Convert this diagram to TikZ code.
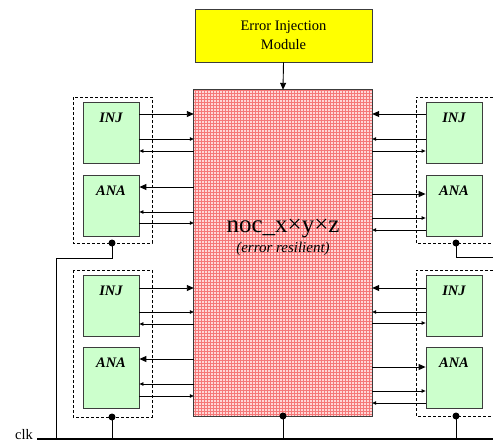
\documentclass[tikz,border=0pt]{standalone}
\usepackage{fontspec}
\setmainfont{Liberation Serif}
\usetikzlibrary{arrows.meta}
\definecolor{gfill}{HTML}{CCFFCC}
\definecolor{yfill}{HTML}{FFFF00}
\definecolor{pinkbg}{RGB}{255,215,215}
\definecolor{pinkln}{RGB}{245,120,120}
\definecolor{edge}{RGB}{60,60,60}
\tikzset{
  ybox/.style={draw=edge,line width=0.8pt,fill=yfill,minimum width=177,minimum height=53,inner sep=0,align=center,font=\fontsize{14.5}{19}\selectfont},
  gbox/.style={draw=edge,line width=0.8pt,fill=gfill,minimum width=56,minimum height=61,inner sep=0},
  boxlbl/.style={inner sep=0,font=\fontsize{14.5}{16}\selectfont\bfseries\itshape},
  grp/.style={draw=black,line width=0.8pt,dash pattern=on 3pt off 2pt},
  big/.style={draw=black,line width=0.9pt,-{Triangle[length=7pt,width=6pt]}},
  small/.style={draw=black,line width=0.8pt,-{Triangle[length=4pt,width=3.5pt]}},
  clkln/.style={draw=black,line width=1pt},
  dot/.style={fill=black},
}
\begin{document}
\begin{tikzpicture}[x=1pt,y=-1pt]
\useasboundingbox (0,0) rectangle (493,442);

% error injection module
\node[ybox] (eim) at (283.5,35.5) {Error Injection\\Module};

% noc
\node[minimum width=178,minimum height=326,inner sep=0,fill=pinkbg] (noc) at (283,253) {};
\begin{scope}
  \clip (noc.north west) rectangle (noc.south east);
  \draw[pinkln,line width=0.45pt,step=3pt] (190,86) grid (376,420);
\end{scope}
\draw[edge,line width=1.2pt] (noc.north west) rectangle (noc.south east);
\node[anchor=base,inner sep=0,font=\fontsize{25}{28}\selectfont] (noct) at (283,232) {noc\_x×y×z};
\node[anchor=base,inner sep=0,font=\fontsize{15}{17}\selectfont\itshape] (nocs) at (283,252) {(error resilient)};

\draw[big] (eim.south) -- (noc.north);

% group boxes
\draw[grp] (73,97) rectangle (152,243);
\draw[grp] (73,270) rectangle (152,417);
\draw[grp] (493,97) -- (416,97) -- (416,243) -- (493,243);
\draw[grp] (493,270) -- (416,270) -- (416,416) -- (493,416);

% green boxes
\node[gbox] (injA) at (111,132.5) {};
\node[gbox] (anaA) at (111,205.5) {};
\node[gbox] (injB) at (111,306) {};
\node[gbox] (anaB) at (111,378) {};
\node[gbox] (injC) at (454,132.5) {};
\node[gbox] (anaC) at (454,205.5) {};
\node[gbox] (injD) at (454,306) {};
\node[gbox] (anaD) at (454,378) {};
\foreach \b/\t in {injA/INJ,anaA/ANA,injB/INJ,anaB/ANA,injC/INJ,anaC/ANA,injD/INJ,anaD/ANA}
  \node[boxlbl] (\b t) at ([yshift=-16pt]\b.north) {\t};

% left top
\draw[big]   (injA.east |- 0,114) -- (noc.west |- 0,114);
\draw[small] (injA.east |- 0,139) -- (noc.west |- 0,139);
\draw[small] (noc.west |- 0,151) -- (injA.east |- 0,151);
\draw[big]   (noc.west |- 0,187) -- (anaA.east |- 0,187);
\draw[small] (noc.west |- 0,212) -- (anaA.east |- 0,212);
\draw[small] (anaA.east |- 0,223) -- (noc.west |- 0,223);
% left bottom
\draw[big]   (injB.east |- 0,288) -- (noc.west |- 0,288);
\draw[small] (injB.east |- 0,312) -- (noc.west |- 0,312);
\draw[small] (noc.west |- 0,324) -- (injB.east |- 0,324);
\draw[big]   (noc.west |- 0,359) -- (anaB.east |- 0,359);
\draw[small] (noc.west |- 0,384) -- (anaB.east |- 0,384);
\draw[small] (anaB.east |- 0,396) -- (noc.west |- 0,396);
% right top
\draw[big]   (injC.west |- 0,114) -- (noc.east |- 0,114);
\draw[small] (injC.west |- 0,139) -- (noc.east |- 0,139);
\draw[small] (noc.east |- 0,151) -- (injC.west |- 0,151);
\draw[big]   (noc.east |- 0,194) -- (anaC.west |- 0,194);
\draw[small] (noc.east |- 0,218) -- (anaC.west |- 0,218);
\draw[small] (anaC.west |- 0,230) -- (noc.east |- 0,230);
% right bottom
\draw[big]   (injD.west |- 0,288) -- (noc.east |- 0,288);
\draw[small] (injD.west |- 0,312) -- (noc.east |- 0,312);
\draw[small] (noc.east |- 0,323) -- (injD.west |- 0,323);
\draw[big]   (noc.east |- 0,367) -- (anaD.west |- 0,367);
\draw[small] (noc.east |- 0,391) -- (anaD.west |- 0,391);
\draw[small] (anaD.west |- 0,403) -- (noc.east |- 0,403);

% clock
\node[anchor=base east,inner sep=0,font=\fontsize{14.5}{16}\selectfont] (clk) at (33,439.5) {clk};
\coordinate (clkend) at (493,439);
\coordinate (dA) at (112,243);
\coordinate (dB) at (112,417);
\coordinate (dN) at (283,416);
\coordinate (dC) at (456,243);
\coordinate (dD) at (456,416);
\coordinate (rC) at (493,257);
\coordinate (kA) at (56,258);
\draw[clkln,line width=1.5pt] ([xshift=4pt]clk.east |- clkend) -- (clkend);
\draw[clkln] (dA) -- (dA |- kA) -- (kA) -- (kA |- clkend);
\draw[clkln] (dB) -- (dB |- clkend);
\draw[clkln] (dN) -- (dN |- clkend);
\draw[clkln] (dD) -- (dD |- clkend);
\draw[clkln] (dC) -- (dC |- rC) -- (rC);
\foreach \d in {dA,dB,dN,dC,dD} \fill[dot] (\d) circle (3.5pt);
\end{tikzpicture}
\end{document}
